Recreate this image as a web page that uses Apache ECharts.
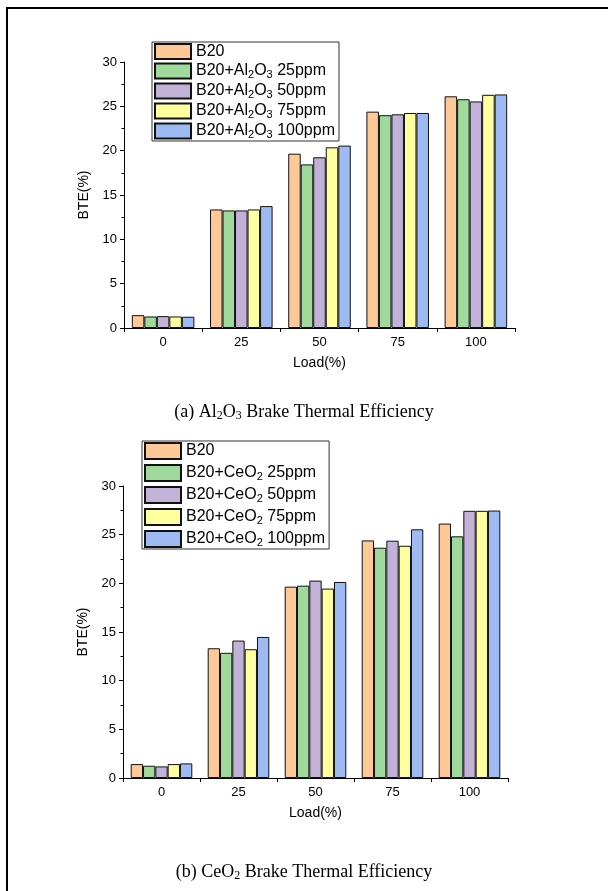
<!DOCTYPE html>
<html>
<head>
<meta charset="utf-8">
<script src="https://cdn.jsdelivr.net/npm/echarts@6/dist/echarts.min.js"></script>
<style>html,body{margin:0;padding:0;background:#fff;}#c{width:608px;height:891px;}</style>
</head>
<body>
<div id="c"></div>
<script>
const categories = ['0', '25', '50', '75', '100'];
const namesA = ['B20', 'B20+Al2O3 25ppm', 'B20+Al2O3 50ppm', 'B20+Al2O3 75ppm', 'B20+Al2O3 100ppm'];
const namesB = ['B20', 'B20+CeO2 25ppm', 'B20+CeO2 50ppm', 'B20+CeO2 75ppm', 'B20+CeO2 100ppm'];
const al_b20   = [1.45, 13.37, 19.66, 24.40, 26.13];
const al_25    = [1.30, 13.26, 18.45, 24.00, 25.80];
const al_50    = [1.34, 13.26, 19.25, 24.10, 25.55];
const al_75    = [1.30, 13.37, 20.38, 24.25, 26.30];
const al_100   = [1.27, 13.75, 20.57, 24.25, 26.34];
const ce_b20   = [1.43, 13.33, 19.66, 24.41, 26.14];
const ce_25    = [1.26, 12.86, 19.76, 23.66, 24.83];
const ce_50    = [1.19, 14.12, 20.28, 24.38, 27.45];
const ce_75    = [1.43, 13.23, 19.46, 23.86, 27.45];
const ce_100   = [1.50, 14.49, 20.14, 25.55, 27.48];
const yTicks = [0, 5, 10, 15, 20, 25, 30];

const colors = ['#FFC896', '#9FD99C', '#C3B2D8', '#FFFFA0', '#9DBBF2'];
const seriesA = [al_b20, al_25, al_50, al_75, al_100];
const seriesB = [ce_b20, ce_25, ce_50, ce_75, ce_100];

function fmt(n) {
  return '{a|' + n.replace('Al2O3', 'Al}{s|2}{a|O}{s|3}{a|').replace('CeO2', 'CeO}{s|2}{a|') + '}';
}
const font = 'Liberation Sans, Arial, sans-serif';
const legendRich = {
  a: {fontSize: 16, fontFamily: font, color: '#000', lineHeight: 18},
  s: {fontSize: 11, fontFamily: font, color: '#000', lineHeight: 10, verticalAlign: 'bottom'}
};

function xAxis(gi) {
  return {
    type: 'category', gridIndex: gi, data: categories,
    axisLine: {lineStyle: {color: '#000', width: 1}},
    axisTick: {show: true, length: 4, lineStyle: {color: '#000'}},
    axisLabel: {color: '#000', fontSize: 13, fontFamily: font, margin: 8},
    name: 'Load(%)', nameLocation: 'middle', nameGap: 28,
    nameTextStyle: {color: '#000', fontSize: 14, fontFamily: font}
  };
}
function yAxis(gi) {
  return {
    type: 'value', gridIndex: gi, min: 0, max: 30, interval: 5,
    axisLine: {show: true, lineStyle: {color: '#000', width: 1}},
    axisTick: {show: true, length: 4, lineStyle: {color: '#000'}},
    minorTick: {show: true, splitNumber: 2, length: 2.5, lineStyle: {color: '#000'}},
    splitLine: {show: false},
    axisLabel: {color: '#000', fontSize: 13, fontFamily: font, margin: 7},
    name: 'BTE(%)', nameLocation: 'middle', nameGap: 27, nameRotate: 90,
    nameTextStyle: {color: '#000', fontSize: 14, fontFamily: font}
  };
}

const series = [];
seriesA.forEach((d, i) => series.push({
  name: namesA[i], type: 'bar', xAxisIndex: 0, yAxisIndex: 0, data: d,
  barGap: '0%', barCategoryGap: '20%',
  itemStyle: {color: colors[i], borderColor: '#111', borderWidth: 1}
}));
seriesB.forEach((d, i) => series.push({
  name: namesB[i], type: 'bar', xAxisIndex: 1, yAxisIndex: 1, data: d,
  barGap: '0%', barCategoryGap: '20%',
  itemStyle: {color: colors[i], borderColor: '#111', borderWidth: 1}
}));

const serifRich = {
  c: {fontSize: 18, fontFamily: 'Liberation Serif, Times New Roman, serif', fill: '#000', lineHeight: 20},
  d: {fontSize: 12, fontFamily: 'Liberation Serif, Times New Roman, serif', fill: '#000', lineHeight: 12, verticalAlign: 'bottom'}
};

const chart = echarts.init(document.getElementById('c'));
chart.setOption({
  animation: false,
  backgroundColor: '#fff',
  grid: [
    {left: 124, top: 62, width: 391, height: 266},
    {left: 123, top: 486, width: 385, height: 292}
  ],
  xAxis: [xAxis(0), xAxis(1)],
  yAxis: [yAxis(0), yAxis(1)],
  legend: [
    {
      data: namesA, orient: 'vertical', left: 152, top: 42, icon: 'rect',
      itemWidth: 36, itemHeight: 15, itemGap: 2.5,
      padding: [1, 4, 1, 2], borderColor: '#333', borderWidth: 1,
      formatter: fmt, textStyle: {rich: legendRich}, selectedMode: false
    },
    {
      data: namesB, orient: 'vertical', left: 142, top: 441, icon: 'rect',
      itemWidth: 36, itemHeight: 16, itemGap: 4,
      padding: [1, 4, 1, 2], borderColor: '#333', borderWidth: 1,
      formatter: fmt, textStyle: {rich: legendRich}, selectedMode: false
    }
  ],
  graphic: [
    {type: 'line', shape: {x1: 7, y1: 8, x2: 608, y2: 8}, style: {stroke: '#000', lineWidth: 2}},
    {type: 'line', shape: {x1: 7, y1: 7, x2: 7, y2: 891}, style: {stroke: '#000', lineWidth: 2}},
    {type: 'text', left: 'center', top: 403, style: {
      text: '{c|(a) Al}{d|2}{c|O}{d|3}{c| Brake Thermal Efficiency}', rich: serifRich
    }},
    {type: 'text', left: 'center', top: 863, style: {
      text: '{c|(b) CeO}{d|2}{c| Brake Thermal Efficiency}', rich: serifRich
    }}
  ],
  series: series
});
</script>
</body>
</html>
